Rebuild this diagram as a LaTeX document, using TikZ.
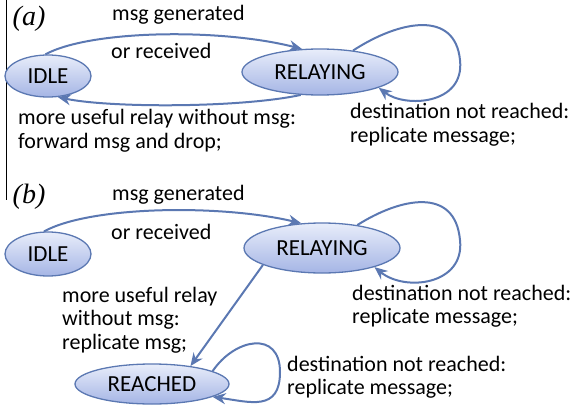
\documentclass[tikz,border=0pt]{standalone}
\usepackage{fontspec}
\setmainfont{Carlito}
\newfontfamily\panelfont{Liberation Serif}
\usetikzlibrary{shapes.geometric,arrows.meta}
\definecolor{edgeblue}{HTML}{5B78B2}
\definecolor{filltop}{HTML}{E8EDFA}
\definecolor{fillbot}{HTML}{A5B5E5}
\tikzset{
  state/.style={ellipse, draw=edgeblue, line width=1.3pt, top color=filltop, bottom color=fillbot, inner sep=0pt, font=\fontsize{23}{23}\selectfont},
  trans/.style={draw=edgeblue, line width=2pt, -{Stealth[length=13pt,width=11pt]}},
  lbl/.style={anchor=west, inner sep=0pt, align=left, font=\fontsize{22}{23.5}\selectfont},
  panel/.style={inner sep=0pt, font=\fontsize{28}{28}\selectfont\panelfont\itshape}
}
\begin{document}
\begin{tikzpicture}[x=1pt,y=-1pt]
\useasboundingbox (0,0) rectangle (573,415);
\coordinate (ltop) at (6,0);
\coordinate (lbot) at (6,200);
\draw[line width=1pt] (ltop) -- (lbot);
% panel (a)
\node[panel] (pa) at (29,19) {(a)};
\node[state, minimum width=86pt, minimum height=42pt] (idleA) at (48,76) {IDLE};
\node[state, minimum width=156pt, minimum height=46pt] (relA) at (320,72) {RELAYING};
\draw[trans] (idleA.97) .. controls (90,30) and (220,28) .. (relA.128);
\draw[trans] (relA.230) .. controls (240,108) and (110,108) .. (idleA.295);
\draw[trans] (relA.33) .. controls (400,20) and (455,10) .. (460,60) .. controls (465,105) and (405,108) .. (relA.345);
\node[lbl] (la1) at (112,15) {msg generated};
\node[lbl] (la2) at (111,51) {or received};
\node[lbl] (la3) at (18,131) {more useful relay without msg:\\forward msg and drop;};
\node[lbl] (la4) at (350,125) {destination not reached:\\replicate message;};
% panel (b)
\node[panel] (pb) at (29,197) {(b)};
\node[state, minimum width=86pt, minimum height=44pt] (idleB) at (48,254) {IDLE};
\node[state, minimum width=156pt, minimum height=50pt] (relB) at (322,248) {RELAYING};
\node[state, minimum width=154pt, minimum height=40pt] (reaB) at (152,384) {REACHED};
\draw[trans] (idleB.100) .. controls (90,206) and (220,204) .. (relB.130);
\draw[trans] (relB.196) -- (reaB.25);
\draw[trans] (relB.33) .. controls (400,198) and (455,186) .. (460,240) .. controls (465,285) and (405,292) .. (relB.340);
\draw[trans] (reaB.12) .. controls (235,338) and (280,330) .. (280,372) .. controls (280,412) and (250,402) .. (reaB.348);
\node[lbl] (lb1) at (112,195) {msg generated};
\node[lbl] (lb2) at (111,232) {or received};
\node[lbl] (lb3) at (62,320) {more useful relay\\without msg:\\replicate msg;};
\node[lbl] (lb4) at (352,306) {destination not reached:\\replicate message;};
\node[lbl] (lb5) at (287,377) {destination not reached:\\replicate message;};
\end{tikzpicture}
\end{document}
